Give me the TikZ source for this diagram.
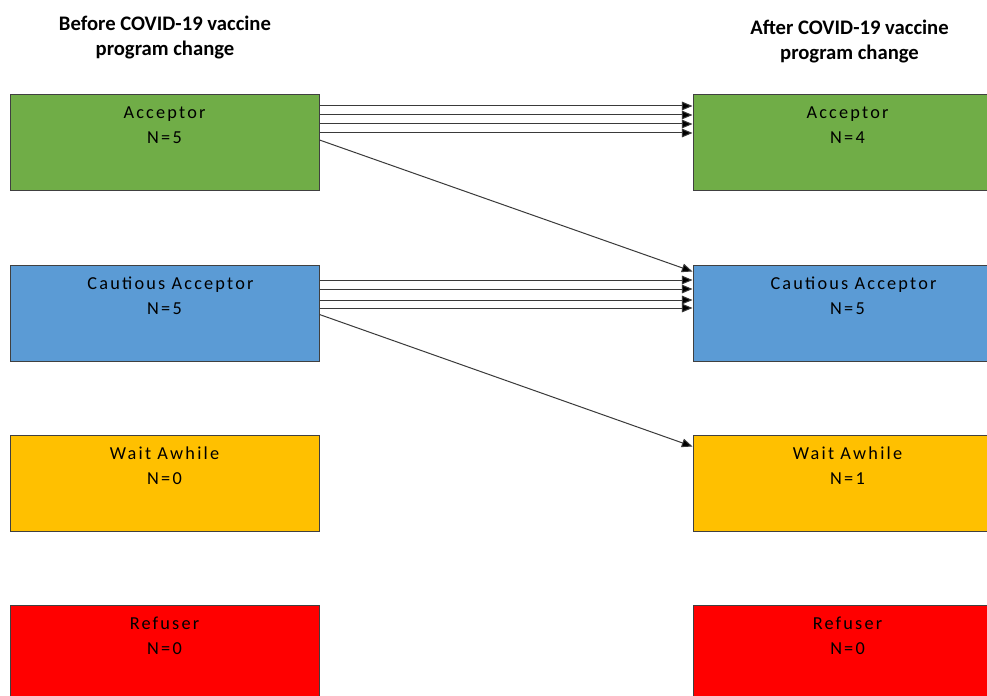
\documentclass[tikz,border=0pt]{standalone}
\usepackage{fontspec}
\setmainfont{Carlito}
\newfontfamily\boxfont[LetterSpace=12]{Carlito}
\usetikzlibrary{arrows.meta,calc}
\definecolor{cgreen}{HTML}{70AD47}
\definecolor{cblue}{HTML}{5B9BD5}
\definecolor{cyellow}{HTML}{FFC000}
\definecolor{cred}{HTML}{FF0000}
\definecolor{cline}{HTML}{3A3A3A}
\begin{document}
\begin{tikzpicture}[x=0.75pt,y=-0.75pt,
  box/.style={draw=black!75,line width=0.75pt,rectangle,minimum width=309*0.75pt,minimum height=96*0.75pt,anchor=north west,inner sep=0pt},
  boxtxt/.style={anchor=north,inner sep=0pt,align=center,font=\boxfont\fontsize{13.7pt}{18.75pt}\selectfont,text=black},
  title/.style={anchor=north,inner sep=0pt,align=center,font=\bfseries\fontsize{15.5pt}{18.3pt}\selectfont},
  arr/.style={draw=cline,line width=0.75pt,-{Triangle[length=8pt,width=6.5pt,fill=black]}}]
\clip (0,0) rectangle (987,695);
\useasboundingbox (0,0) rectangle (987,695);
\fill[white] (0,0) rectangle (987,695);
% titles
\node[title] (tl) at (165,16) {Before COVID-19 vaccine\\program change};
\node[title] (tr) at (849.5,20) {After COVID-19 vaccine\\program change};
% left boxes
\node[box,fill=cgreen] (la) at (9.5,94.5) {};
\node[box,fill=cblue] (lc) at (9.5,264.5) {};
\node[box,fill=cyellow] (lw) at (9.5,434.5) {};
\node[box,fill=cred] (lr) at (9.5,604.5) {};
% right boxes
\node[box,fill=cgreen] (ra) at (692.5,94.5) {};
\node[box,fill=cblue] (rc) at (692.5,264.5) {};
\node[box,fill=cyellow] (rw) at (692.5,434.5) {};
\node[box,fill=cred] (rr) at (692.5,604.5) {};
% box texts
\node[boxtxt] (lat) at ($(la.north)+(0,12)$) {Acceptor\\N=5};
\node[boxtxt] (lct) at ($(lc.north)+(0,12)$) {\hspace*{9pt}Cautious Acceptor\\N=5};
\node[boxtxt] (lwt) at ($(lw.north)+(0,12)$) {Wait Awhile\\N=0};
\node[boxtxt] (lrt) at ($(lr.north)+(0,12)$) {Refuser\\N=0};
\node[boxtxt] (rat) at ($(ra.north)+(0,12)$) {Acceptor\\N=4};
\node[boxtxt] (rct) at ($(rc.north)+(0,12)$) {\hspace*{9pt}Cautious Acceptor\\N=5};
\node[boxtxt] (rwt) at ($(rw.north)+(0,12)$) {Wait Awhile\\N=1};
\node[boxtxt] (rrt) at ($(rr.north)+(0,12)$) {Refuser\\N=0};
% connectors acceptor -> acceptor
\foreach \d in {11.5,20.5,29.5,38.5}{
  \draw[arr] ($(la.north east)+(0,\d)$) -- ($(ra.north west)+(0,\d)$);
}
\draw[arr] ($(la.north east)+(0,45.5)$) -- ($(rc.north west)+(0,7)$);
% cautious -> cautious
\foreach \d in {15.5,24.5,35.5,43.5}{
  \draw[arr] ($(lc.north east)+(0,\d)$) -- ($(rc.north west)+(0,\d)$);
}
\draw[arr] ($(lc.north east)+(0,50)$) -- ($(rw.north west)+(0,12)$);
\end{tikzpicture}
\end{document}
